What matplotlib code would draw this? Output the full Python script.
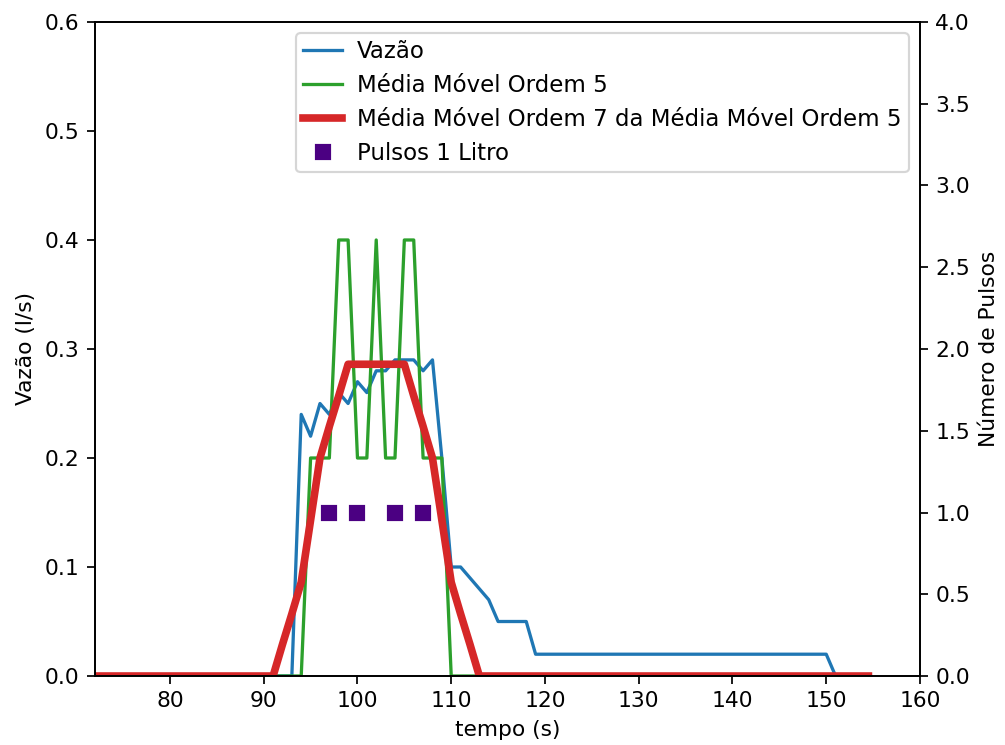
import matplotlib
matplotlib.use("Agg")
import matplotlib.pyplot as plt

# vazao medida
t_vazao = [72, 93, 94, 95, 96, 97, 98, 99, 100, 101, 102, 103, 104, 105, 106, 107,
           108, 109, 110, 111, 114, 115, 118, 119, 150, 151, 154.5]
vazao = [0, 0, 0.24, 0.22, 0.25, 0.24, 0.26, 0.25, 0.27, 0.26, 0.28, 0.28, 0.29, 0.29,
         0.29, 0.28, 0.29, 0.20, 0.10, 0.10, 0.07, 0.05, 0.05, 0.02, 0.02, 0, 0]

# media movel ordem 5
t_mm5 = [72, 94, 95, 96, 97, 98, 99, 100, 101, 102, 103, 104, 105, 106, 107, 108, 109, 110, 154.5]
mm5 = [0, 0, 0.2, 0.2, 0.2, 0.4, 0.4, 0.2, 0.2, 0.4, 0.2, 0.2, 0.4, 0.4, 0.2, 0.2, 0.2, 0, 0]

# media movel ordem 7 da media movel ordem 5
t_mm7 = [72, 91, 92, 93, 94, 95, 96, 97, 98, 99, 105, 106, 107, 108, 109, 110, 111, 112, 113, 154.5]
mm7 = [0, 0, 0.029, 0.057, 0.086, 0.143, 0.2, 0.229, 0.257, 0.286, 0.286, 0.257, 0.229,
       0.2, 0.143, 0.086, 0.057, 0.029, 0, 0]

# pulsos de 1 litro
t_pulsos = [97, 100, 104, 107]
pulsos = [1, 1, 1, 1]

fig, ax1 = plt.subplots(figsize=(1005 / 157, 745 / 157), dpi=157)
fig.subplots_adjust(left=0.0945, right=0.9154, top=0.9705, bottom=0.0926)

l1, = ax1.plot(t_vazao, vazao, color="tab:blue", lw=1.5, label="Vazão")
l2, = ax1.plot(t_mm5, mm5, color="tab:green", lw=1.5, label="Média Móvel Ordem 5")
l3, = ax1.plot(t_mm7, mm7, color="tab:red", lw=3.5, label="Média Móvel Ordem 7 da Média Móvel Ordem 5")
ax1.set_xlim(72, 160)
ax1.set_ylim(0, 0.6)
ax1.set_xlabel("tempo (s)")
ax1.set_ylabel("Vazão (l/s)")

ax2 = ax1.twinx()
l4, = ax2.plot(t_pulsos, pulsos, "s", color="indigo", markersize=6.5, label="Pulsos 1 Litro")
ax2.set_ylim(0, 4)
ax2.set_ylabel("Número de Pulsos")

ax2.legend(handles=[l1, l2, l3, l4], loc="upper right", fontsize=10.5,
           handlelength=1.7, handletextpad=0.65, labelspacing=0.48, borderpad=0.3)

fig.savefig("out.png", dpi=157)
